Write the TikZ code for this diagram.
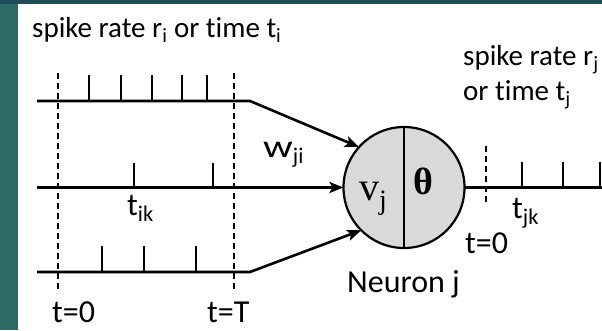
\documentclass[tikz,border=0pt]{standalone}
\usepackage{fontspec}
\setmainfont{Carlito}[Ligatures={NoCommon}]
\newfontfamily\somafont{Liberation Serif}
\usetikzlibrary{arrows.meta}
\definecolor{slideteal}{RGB}{47,107,102}
\definecolor{slidetop}{RGB}{30,78,86}
\definecolor{somagray}{RGB}{217,217,217}

\begin{document}
\begin{tikzpicture}[x=1pt, y=-1pt,
		train/.style={line width=2.6pt},
		spike/.style={line width=2.3pt},
		timemark/.style={line width=1.2pt, dash pattern=on 6pt off 4pt},
		syn/.style={train, -{Stealth[length=14pt, width=11pt, inset=3pt]}},
		lbl/.style={inner sep=0pt, anchor=base west, font=\fontsize{32}{36}\selectfont}]
	
	% --- Slide background ---
	\fill[slideteal] (0,0) rectangle (602,330);
	\fill[slidetop] (0,0) rectangle (602,4);
	\fill[white] (18,4) rectangle (602,330);
	\useasboundingbox (0,0) rectangle (602,330);
	
	% --- Neuron ---
	\node[circle, draw, fill=somagray, line width=2.2pt, minimum size=121pt,
	inner sep=0pt, outer sep=0pt] (neuron) at (404,187.5) {};
	\draw[line width=1.8pt] (neuron.north) -- (neuron.south);
	\node[inner sep=0pt, anchor=base west, font=\somafont\fontsize{40}{44}\selectfont]
	(vj) at (359,200) {v\textsubscript{j}};
	\node[inner sep=0pt, font=\somafont\bfseries\fontsize{38}{42}\selectfont]
	(theta) at (423,181) {θ};
	
	% --- Input spike trains ---
	\coordinate (intop) at (37,101);
	\coordinate (bendtop) at (250,101);
	\coordinate (inmid) at (37,187.5);
	\coordinate (inbot) at (37,272);
	\coordinate (bendbot) at (250,272);
	
	\draw[syn] (intop) -- (bendtop) -- (neuron.138);
	\draw[syn] (inmid) -- (neuron.west);
	\draw[syn] (inbot) -- (bendbot) -- (neuron.225);
	
	\foreach \x in {89,121,152,182,207}
	\draw[spike] (\x,101) -- ++(0,-26);
	\foreach \x in {134,213}
	\draw[spike] (\x,187.5) -- ++(0,-25);
	\foreach \x in {102,144,196}
	\draw[spike] (\x,272) -- ++(0,-26);
	
	% window t=0 ... t=T
	\draw[timemark] (58,73) -- (58,293);
	\draw[timemark] (234,73) -- (234,293);
	
	% --- Output spike train ---
	\coordinate (outend) at (602,187.5);
	\draw[train] (neuron.east) -- (outend);
	\foreach \x in {522,563,600}
	\draw[spike] (\x,187.5) -- ++(0,-26);
	\draw[timemark] (486,146) -- (486,204);
	
	% --- Labels ---
	\node[lbl, font=\fontsize{29}{32}\selectfont] (inlabel) at (32,37)
	{spike rate r\textsubscript{i} or time t\textsubscript{i}};
	\node[lbl, font=\fontsize{29}{32}\selectfont] (outlabela) at (463,65)
	{spike rate r\textsubscript{j}};
	\node[lbl, font=\fontsize{29}{32}\selectfont] (outlabelb) at (463,100)
	{or time t\textsubscript{j}};
	\node[lbl] (wji) at (263,157) {\scalebox{1.3}[1]{w}\textsubscript{ji}};
	\node[lbl] (tik) at (127,215) {t\textsubscript{ik}};
	\node[lbl] (tjk) at (512,218) {t\textsubscript{jk}};
	\node[lbl] (tzero) at (52,322) {t=0};
	\node[lbl] (tend) at (207,322) {t=T};
	\node[lbl] (tzeroout) at (465,253) {t=0};
	\node[lbl] (neuronlbl) at (347,292) {Neuron j};
	
\end{tikzpicture}
\end{document}
